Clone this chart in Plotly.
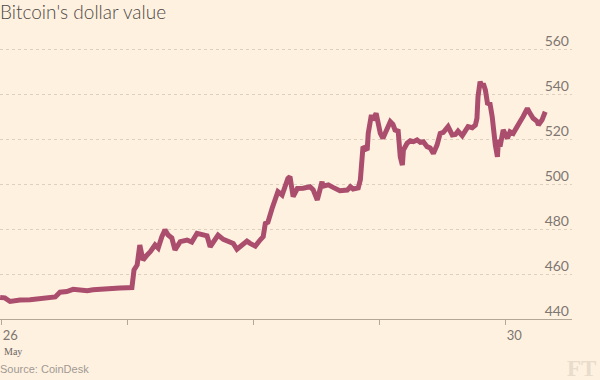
import pandas as pd
import plotly.graph_objects as go

# Hours since 26 May 2016 00:00 and bitcoin price (USD)
hours = [-0.3, 0.6, 1.6, 2.5, 3.5, 5.4, 7.3, 9.2, 10.2, 11.1, 12.4, 13.6, 14.9, 16.3, 17.4,
         18.7, 20.1, 21.2, 22.5, 23.9, 24.8, 25.2, 25.8, 26.3, 26.9, 27.7, 28.3, 29.2, 29.8,
         30.5, 31.1, 31.7, 32.4, 33.0, 34.0, 35.3, 36.2, 37.2, 38.3, 39.1, 39.7, 40.6, 41.2,
         42.2, 43.1, 44.1, 44.8, 46.0, 46.7, 47.3, 48.3, 49.2, 49.8, 50.2, 50.7, 51.5, 52.1,
         52.6, 53.4, 54.0, 54.5, 54.9, 55.3, 55.5, 56.3, 57.4, 58.7, 59.3, 60.1, 60.6, 61.0,
         61.2, 62.2, 63.1, 64.4, 65.8, 66.4, 66.9, 67.9, 68.3, 68.6, 68.8, 69.6, 69.8, 70.4,
         70.7, 71.3, 71.7, 72.1, 72.6, 73.4, 74.0, 74.5, 74.9, 75.5, 75.9, 76.3, 76.5, 77.2,
         77.8, 78.4, 79.1, 79.7, 80.3, 81.0, 81.6, 82.2, 82.9, 83.5, 84.1, 85.0, 85.8, 86.4,
         86.9, 87.7, 88.3, 88.8, 89.6, 90.2, 90.5, 90.7, 91.1, 91.5, 91.7, 92.1, 92.5, 93.0,
         93.4, 93.6, 94.0, 94.4, 94.6, 94.9, 95.5, 96.3, 96.8, 97.4, 98.2, 98.7, 99.3, 100.1,
         100.6, 101.2, 102.0, 102.2, 102.9, 103.5]
price = [449.6, 449.4, 447.8, 448.3, 448.4, 448.6, 449.0, 449.2, 449.8, 451.9, 452.2, 453.2,
         452.9, 452.6, 453.0, 453.3, 453.4, 453.4, 453.8, 453.9, 454.0, 461.8, 464.0, 472.9,
         466.2, 468.5, 469.9, 472.9, 471.5, 476.6, 479.6, 477.3, 476.0, 470.7, 474.4, 475.1,
         474.2, 478.1, 477.3, 477.0, 472.1, 475.1, 477.3, 475.4, 474.8, 473.6, 471.0, 473.6,
         474.6, 473.6, 472.4, 475.1, 476.6, 482.5, 483.0, 489.2, 494.4, 496.6, 495.1, 498.8,
         502.5, 503.3, 498.8, 494.4, 498.0, 498.1, 498.8, 497.5, 492.9, 497.3, 501.0, 499.0,
         499.6, 498.5, 497.0, 497.3, 498.8, 497.8, 498.3, 501.8, 512.1, 516.6, 515.1, 522.5,
         530.7, 528.4, 531.4, 527.0, 522.5, 520.3, 524.8, 527.7, 526.5, 524.0, 523.5, 512.1,
         508.4, 515.1, 518.1, 519.2, 518.8, 519.6, 518.5, 518.8, 516.6, 516.0, 513.6, 517.3,
         522.5, 523.0, 525.5, 521.8, 522.0, 523.5, 521.5, 523.5, 525.5, 525.0, 526.2, 529.2,
         538.8, 545.5, 543.2, 544.7, 541.8, 535.9, 535.5, 530.0, 524.0, 517.3, 512.1, 519.6,
         516.6, 524.0, 520.3, 523.2, 522.5, 526.2, 527.7, 530.0, 533.6, 531.4, 529.2, 527.7,
         526.2, 528.5, 532.1]

day_ticks = ["2016-05-26", "2016-05-27", "2016-05-28", "2016-05-29", "2016-05-30"]
day_labels = ["26", "", "", "", "30"]
y_ticks = [440, 460, 480, 500, 520, 540, 560]

start = pd.Timestamp("2016-05-26")
times = [start + pd.Timedelta(hours=h) for h in hours]

fig = go.Figure()
fig.add_trace(go.Scatter(x=times, y=price, mode="lines",
                         line=dict(color="#ab4e6e", width=5), hoverinfo="skip"))

fig.update_layout(
    width=600, height=380,
    paper_bgcolor="#fff1e0", plot_bgcolor="#fff1e0",
    margin=dict(l=0, r=28, t=31, b=61),
    showlegend=False,
    title=dict(text="Bitcoin's dollar value", x=0, xref="container", xanchor="left",
               y=0.968, yanchor="middle",
               font=dict(family="Lato", size=19, color="#4d4845", weight=300)),
    xaxis=dict(type="date",
               range=[start - pd.Timedelta(hours=0.32), start + pd.Timedelta(hours=108.6)],
               tickvals=day_ticks, ticktext=day_labels,
               ticks="outside", ticklen=5, tickcolor="#b3a795", tickwidth=1,
               ticklabelposition="outside right", ticklabelstandoff=4,
               showline=True, linecolor="#b3a795", linewidth=1,
               showgrid=False, zeroline=False,
               tickfont=dict(family="Lato", size=13, color="#7d7671")),
    yaxis=dict(range=[440, 568], tickvals=y_ticks, side="right",
               ticklabelposition="inside", ticklabelshift=-8,
               showgrid=True, gridcolor="#ddd0bf", griddash="dot", gridwidth=1,
               zeroline=False, showline=False, ticks="",
               tickfont=dict(family="Lato", size=14, color="#7d7671")),
)

fig.add_annotation(text="May", x=day_ticks[0], xref="x", xanchor="left",
                   y=0, yref="paper", yanchor="middle", yshift=-32, showarrow=False,
                   font=dict(family="Liberation Serif", size=10, color="#6b6560"))
fig.add_annotation(text="Source: CoinDesk", x=0, xref="paper", xanchor="left",
                   y=0, yref="paper", yanchor="middle", yshift=-50, xshift=-2, showarrow=False,
                   font=dict(family="Liberation Sans", size=11, color="#a09993"))
fig.add_annotation(text="<b>FT</b>", x=1, xref="paper", xanchor="right", xshift=26,
                   y=0, yref="paper", yanchor="middle", yshift=-49, showarrow=False,
                   font=dict(family="Liberation Serif", size=23, color="#e8dccb"))

fig.write_html("out.html", config={"displayModeBar": False},
               post_script="document.body.style.margin='0';")
